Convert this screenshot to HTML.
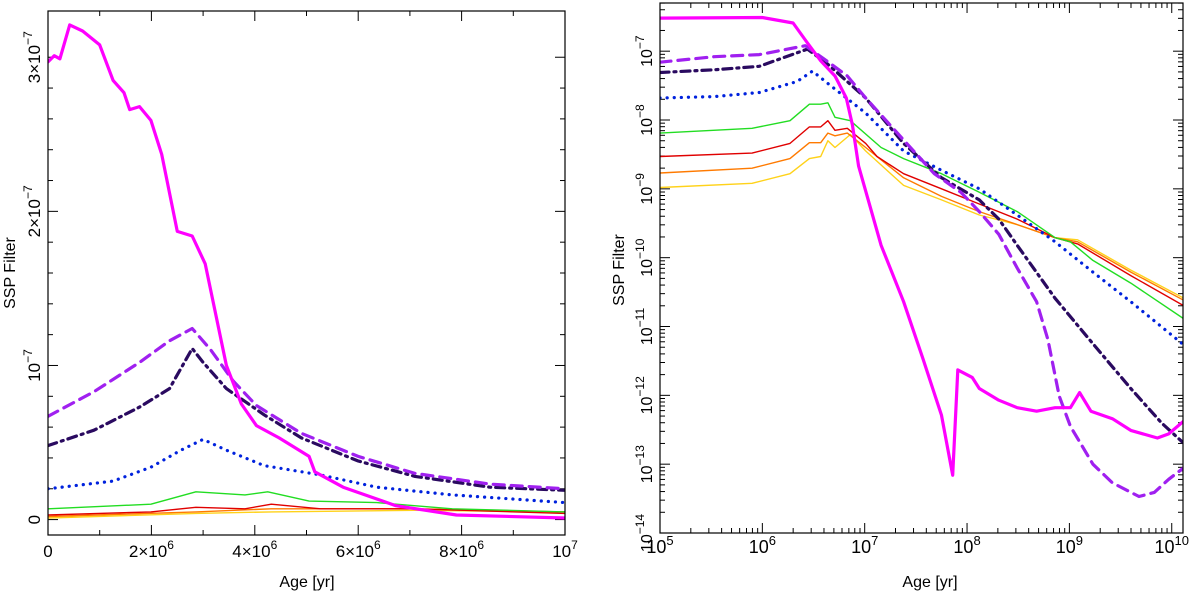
<!DOCTYPE html>
<html><head><meta charset="utf-8"><style>
html,body{margin:0;padding:0;background:#fff;}
svg{display:block;font-family:"Liberation Sans",sans-serif;}
</style></head><body>
<svg id="chart" width="1200" height="592" viewBox="0 0 1200 592">
<g id="left"></g>
<g id="right"></g>
</svg>
<script>
const NS="http://www.w3.org/2000/svg";
const seriesNames=["magenta","purple-dashed","indigo-dashdot","blue-dotted","green","red","orange","yellow"];
// ---- Left panel data: age in 1e6 yr, value in 1e-7 ----
const linMagX=[0,0.12,0.23,0.42,0.67,1.0,1.26,1.47,1.58,1.77,1.99,2.2,2.5,2.79,3.04,3.45,3.74,4.03,4.47,5.05,5.16,5.71,6.73,7.9,10];
const linMagY=[2.97,3.01,2.99,3.21,3.17,3.08,2.85,2.77,2.66,2.68,2.59,2.37,1.87,1.84,1.66,1.0,0.75,0.61,0.53,0.41,0.31,0.21,0.09,0.03,0.01];
const linDashX=[0,0.89,1.77,2.35,2.79,3.15,3.58,4.03,4.9,6.0,7.1,8.55,10];
const linDashY=[0.67,0.83,1.02,1.16,1.24,1.1,0.9,0.74,0.56,0.41,0.3,0.23,0.2];
const linDDX=[0,0.89,1.77,2.35,2.79,3.0,3.45,4.18,4.9,6.0,7.1,8.55,10];
const linDDY=[0.48,0.58,0.73,0.85,1.11,1.02,0.85,0.68,0.53,0.38,0.28,0.21,0.19];
const linDotX=[0,1.26,1.99,2.57,3.0,3.45,4.18,5.27,6.36,7.82,10];
const linDotY=[0.2,0.25,0.34,0.45,0.52,0.45,0.35,0.29,0.21,0.16,0.11];
const linGreenX=[0,1.99,2.86,3.81,4.25,5.05,6.36,7.82,10];
const linGreenY=[0.07,0.1,0.18,0.16,0.18,0.12,0.11,0.07,0.05];
const linRedX=[0,1.99,2.86,3.81,4.32,5.27,7.1,10];
const linRedY=[0.03,0.05,0.08,0.07,0.1,0.07,0.07,0.04];
const linOrX=[0,2.86,4.32,7.1,10];
const linOrY=[0.02,0.05,0.07,0.07,0.05];
const linYeX=[0,2.86,4.32,7.1,10];
const linYeY=[0.01,0.04,0.05,0.06,0.05];
// ---- Right panel data: log10 age, log10 value ----
const logMagX=[5,6,6.3,6.43,6.57,6.71,6.82,6.88,6.94,7.16,7.38,7.57,7.75,7.86,7.91,8.05,8.12,8.31,8.49,8.68,8.86,9.01,9.1,9.21,9.42,9.6,9.86,9.97,10.12];
const logMagY=[-6.52,-6.51,-6.59,-6.86,-7.14,-7.36,-7.68,-8.07,-8.67,-9.82,-10.64,-11.47,-12.29,-13.16,-11.63,-11.74,-11.9,-12.07,-12.18,-12.23,-12.18,-12.18,-11.96,-12.23,-12.34,-12.51,-12.62,-12.56,-12.37];
const logDashX=[5,5.53,5.97,6.42,6.6,6.83,7.01,7.38,7.68,7.94,8.12,8.31,8.49,8.68,8.79,8.9,9.01,9.23,9.42,9.68,9.83,9.97,10.12];
const logDashY=[-7.16,-7.08,-7.05,-6.92,-7.11,-7.36,-7.68,-8.29,-8.78,-9.05,-9.33,-9.66,-10.15,-10.64,-11.19,-12.01,-12.45,-13.0,-13.27,-13.47,-13.41,-13.22,-13.05];
const logDDX=[5,5.53,5.97,6.44,6.64,7.01,7.38,7.75,8.12,8.31,8.49,8.86,9.23,9.6,9.9,10.12];
const logDDY=[-7.31,-7.27,-7.22,-6.97,-7.19,-7.68,-8.34,-8.84,-9.16,-9.44,-9.82,-10.59,-11.25,-11.9,-12.4,-12.7];
const logDotX=[5,5.53,5.97,6.34,6.49,6.64,7.01,7.38,7.75,8.12,8.49,8.86,9.23,9.6,10.12];
const logDotY=[-7.68,-7.66,-7.6,-7.44,-7.29,-7.47,-7.9,-8.45,-8.73,-9.0,-9.38,-9.77,-10.21,-10.64,-11.27];
const logGreenX=[5,5.9,6.27,6.46,6.57,6.64,6.71,6.86,7.16,7.38,7.75,8.12,8.49,8.86,9.01,9.23,9.6,10.12];
const logGreenY=[-8.19,-8.12,-8.01,-7.77,-7.77,-7.75,-7.96,-8.01,-8.4,-8.56,-8.78,-9.05,-9.33,-9.71,-9.77,-10.04,-10.37,-10.89];
const logRedX=[5,5.9,6.27,6.46,6.57,6.64,6.71,6.83,7.01,7.12,7.38,7.75,8.12,8.49,8.86,9.08,9.6,10.12];
const logRedY=[-8.53,-8.48,-8.34,-8.1,-8.1,-8.01,-8.15,-8.12,-8.34,-8.53,-8.78,-9.0,-9.22,-9.44,-9.71,-9.8,-10.26,-10.7];
const logOrX=[5,5.9,6.27,6.46,6.57,6.64,6.71,6.83,7.01,7.38,7.75,8.12,8.49,8.86,9.08,9.6,10.12];
const logOrY=[-8.77,-8.7,-8.56,-8.33,-8.33,-8.19,-8.23,-8.19,-8.4,-8.84,-9.11,-9.33,-9.52,-9.71,-9.77,-10.21,-10.62];
const logYeX=[5,5.9,6.27,6.46,6.57,6.64,6.71,6.86,7.01,7.38,7.75,8.12,8.49,8.86,9.08,9.6,10.12];
const logYeY=[-8.98,-8.92,-8.78,-8.56,-8.53,-8.3,-8.4,-8.21,-8.45,-8.95,-9.16,-9.38,-9.52,-9.71,-9.74,-10.18,-10.59];
const leftXTicks=[0,2,4,6,8,10];
const leftYTicks=[0,1,2,3];
const rightXTicks=[5,6,7,8,9,10];
const rightYTicks=[-14,-13,-12,-11,-10,-9,-8,-7];

const styles=[
 {c:"#ff00ff",w:3.2,d:""},
 {c:"#a020f0",w:3.2,d:"11,7"},
 {c:"#2a0a60",w:3.2,d:"9,5,2,5"},
 {c:"#0022dd",w:3.2,d:"0.1,7"},
 {c:"#22dd22",w:1.4,d:""},
 {c:"#e00000",w:1.4,d:""},
 {c:"#ff7a00",w:1.4,d:""},
 {c:"#ffd21a",w:1.4,d:""}];

function el(tag,attrs,parent){const e=document.createElementNS(NS,tag);for(const k in attrs)e.setAttribute(k,attrs[k]);parent.appendChild(e);return e;}

const L={x0:48,x1:565,y0:11,y1:535,xmin:0,xmax:10,ymin:-0.1,ymax:3.3};
const R={x0:660,x1:1183,y0:3,y1:533,xmin:5,xmax:10.11,ymin:-14,ymax:-6.3};
function sx(P,v){return P.x0+(v-P.xmin)/(P.xmax-P.xmin)*(P.x1-P.x0);}
function sy(P,v){return P.y1-(v-P.ymin)/(P.ymax-P.ymin)*(P.y1-P.y0);}

function drawSeries(P,g,xs,ys,i){
  const s=styles[i];
  const pts=xs.map((x,k)=>sx(P,x).toFixed(1)+","+sy(P,ys[k]).toFixed(1)).join(" ");
  const p=el("polyline",{points:pts,fill:"none",stroke:s.c,"stroke-width":s.w,"stroke-linejoin":"round","stroke-linecap":"round"},g);
  if(s.d)p.setAttribute("stroke-dasharray",s.d);
  
  
}
function frame(P,g){
  const r=el("rect",{x:P.x0,y:P.y0,width:P.x1-P.x0,height:P.y1-P.y0,fill:"none",stroke:"#000","stroke-width":1.2},g);
  
  
}
function tick(g,x1,y1,x2,y2){el("line",{x1:x1,y1:y1,x2:x2,y2:y2,stroke:"#000","stroke-width":1},g);}

// LEFT
const gl=document.getElementById("left");
const clipL=el("clipPath",{id:"cl"},gl);el("rect",{x:L.x0,y:L.y0,width:L.x1-L.x0,height:L.y1-L.y0},clipL);
const tl=el("g",{},gl);
for(let v=0;v<=10;v+=1){const x=sx(L,v);const len=v%2==0?10:5;tick(tl,x,L.y1,x,L.y1-len);tick(tl,x,L.y0,x,L.y0+len);}
for(let v=0;v<=3.2;v+=0.2){const y=sy(L,v);const len=Math.abs(v-Math.round(v))<0.01?10:5;tick(tl,L.x0,y,L.x0+len,y);tick(tl,L.x1,y,L.x1-len,y);}
leftXTicks.forEach(v=>{const t=el("text",{x:sx(L,v),y:L.y1+22,"font-size":17,"text-anchor":"middle"},gl);
  if(v==0)t.textContent="0";else if(v==10){t.innerHTML='10<tspan dy="-8" font-size="12">7</tspan>';}
  else t.innerHTML=(v)+'×10<tspan dy="-8" font-size="12">6</tspan>';
  });
leftYTicks.forEach(v=>{const y=sy(L,v);const t=el("text",{x:0,y:0,"font-size":17,"text-anchor":"middle",transform:`translate(40,${y}) rotate(-90)`},gl);
  if(v==0)t.textContent="0";else if(v==1)t.innerHTML='10<tspan dy="-8" font-size="12">−7</tspan>';
  else t.innerHTML=v+'×10<tspan dy="-8" font-size="12">−7</tspan>';
  });
const ga=el("g",{"clip-path":"url(#cl)"},gl);
[[linMagX,linMagY],[linDashX,linDashY],[linDDX,linDDY],[linDotX,linDotY],[linGreenX,linGreenY],[linRedX,linRedY],[linOrX,linOrY],[linYeX,linYeY]].slice().reverse().forEach((d,k)=>drawSeries(L,ga,d[0],d[1],7-k));
frame(L,gl);
let t1=el("text",{x:307,y:587,"font-size":16,"text-anchor":"middle"},gl);t1.textContent="Age [yr]";

let t2=el("text",{x:0,y:0,"font-size":16,"text-anchor":"middle",transform:"translate(15,273) rotate(-90)"},gl);t2.textContent="SSP Filter";


// RIGHT
const gr=document.getElementById("right");
const clipR=el("clipPath",{id:"cr"},gr);el("rect",{x:R.x0,y:R.y0,width:R.x1-R.x0,height:R.y1-R.y0},clipR);
const tr=el("g",{"clip-path":"url(#cr)"},gr);
for(let d=5;d<=10;d++){for(let m=1;m<=9;m++){const v=d+Math.log10(m);if(v>R.xmax)continue;const x=sx(R,v);const len=m==1?10:5;tick(tr,x,R.y1,x,R.y1-len);tick(tr,x,R.y0,x,R.y0+len);}}
for(let d=-14;d<=-7;d++){for(let m=1;m<=9;m++){const v=d+Math.log10(m);if(v>R.ymax)continue;const y=sy(R,v);const len=m==1?10:5;tick(tr,R.x0,y,R.x0+len,y);tick(tr,R.x1,y,R.x1-len,y);}}
rightXTicks.forEach(v=>{const t=el("text",{x:sx(R,v),y:R.y1+20,"font-size":18,"text-anchor":"middle"},gr);
  t.innerHTML='10<tspan dy="-8" font-size="13">'+v+'</tspan>';
  });
rightYTicks.forEach(v=>{const y=sy(R,v);const t=el("text",{x:0,y:0,"font-size":16,"text-anchor":"middle",transform:`translate(${R.x0-8},${y}) rotate(-90)`},gr);
  t.innerHTML='10<tspan dy="-8" font-size="12">−'+(-v)+'</tspan>';
  });
const gb=el("g",{"clip-path":"url(#cr)"},gr);
[[logMagX,logMagY],[logDashX,logDashY],[logDDX,logDDY],[logDotX,logDotY],[logGreenX,logGreenY],[logRedX,logRedY],[logOrX,logOrY],[logYeX,logYeY]].slice().reverse().forEach((d,k)=>drawSeries(R,gb,d[0],d[1],7-k));
frame(R,gr);
let t3=el("text",{x:930,y:587,"font-size":16,"text-anchor":"middle"},gr);t3.textContent="Age [yr]";

let t4=el("text",{x:0,y:0,"font-size":16,"text-anchor":"middle",transform:"translate(624,270) rotate(-90)"},gr);t4.textContent="SSP Filter";

</script>
</body></html>
